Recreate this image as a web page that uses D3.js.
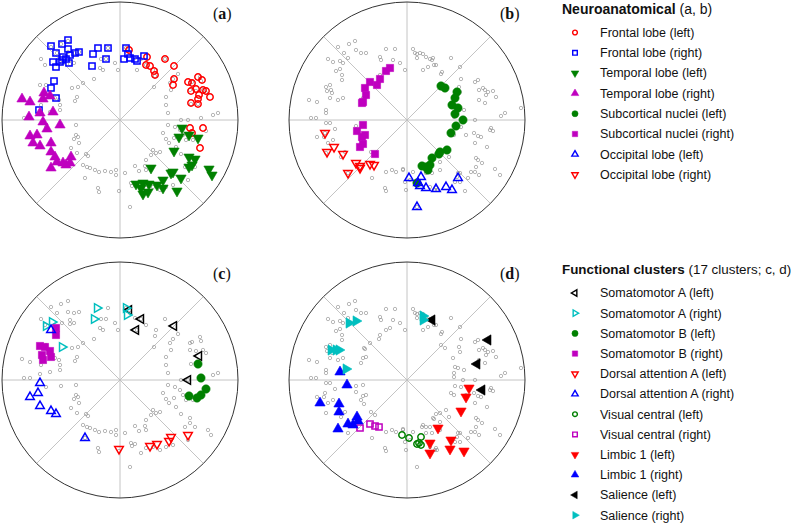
<!DOCTYPE html>
<html><head><meta charset="utf-8">
<script src="https://cdn.jsdelivr.net/npm/d3@7"></script>
<style>body{margin:0;background:#fff}</style>
</head><body>
<svg id="chart" width="800" height="525"></svg>
<script>
// ---- background nodes (embedding coordinates) ----
const leftBackground = [[-59,76],[-52,79],[-69,73],[-63,67],[-52,68],[-46,67],[-41,68],[-50,60],[-58,57],[-46,57],[-50,56],[-79,61],[-75,55],[-12,72],[-19,61],[-14,61],[-5,57],[-2,50],[-20,52],[-17,50],[-26,41],[-37,37],[-42,33],[-43,23],[-45,19],[-48,32],[-61,20],[-60,15],[-60,10],[-65,22],[-70,8],[-79,15],[-80,35],[-74,35],[-90,18],[-98,21],[-96,2],[-90,2],[-80,6],[-74,-7],[-59,-6],[-44,-5],[-44,-15],[-42,-17],[-46,-19],[-41,-23],[-49,-28],[-43,-33],[-34,-34],[-32,-36],[-37,-45],[-33,-47],[-30,-48],[-25,-50],[-21,-52],[-15,-51],[-9,-52],[-4,-50],[-4,-55],[5,-53],[-35,-58],[-22,-68],[-21,-72],[-1,-71],[10,-87],[15,-46],[19,-51],[25,-46],[26,-50],[33,-30],[31,-35],[26,-40],[36,-33],[40,-32],[43,-13],[46,-19],[49,-23],[54,-18],[56,-27],[61,-34],[65,-47],[70,-38],[70,-43],[48,-5],[55,-7],[60,-10],[63,-15],[66,-20],[73,-20],[81,2],[93,5],[98,7],[86,-11],[88,-50],[91,-55],[75,-47],[68,-60],[53,-65],[46,-67],[40,-70],[33,-67],[26,-68],[21,-73],[15,-64],[11,-63],[12,-66],[45,61],[35,44],[36,50],[26,55],[21,61],[17,50],[34,33],[46,23],[46,15],[48,7],[51,30],[50,37],[53,41],[58,46],[70,37],[72,38],[80,43],[81,39],[70,30],[76,29],[83,30],[86,27],[71,16],[78,16],[61,0],[68,0],[6,72],[10,67],[15,62]];
const rightBackground = [[-69,73],[-58,76],[-52,79],[-51,70],[-46,67],[-41,67],[-63,67],[-59,62],[-79,61],[-74,58],[-67,59],[-64,57],[-67,51],[-71,49],[-65,45],[-65,40],[-77,35],[-81,33],[-80,29],[-76,30],[-75,27],[-69,20],[-64,22],[-77,22],[-90,18],[-98,20],[-81,10],[-81,7],[-96,2],[-91,2],[-81,-3],[-77,-3],[-72,-9],[-82,-13],[-83,-17],[-90,-17],[-74,-20],[-79,-23],[-81,-33],[-62,-32],[-66,-37],[-59,-53],[-35,-58],[-22,-68],[-21,-71],[-1,-70],[10,-87],[-44,-16],[-46,-20],[-43,-24],[-41,-15],[-51,-12],[-51,-6],[-44,-5],[-36,-32],[-32,-35],[-37,37],[-28,41],[-27,45],[-21,50],[-17,52],[-27,63],[-21,71],[-12,71],[-26,60],[-14,60],[-7,57],[-2,50],[6,71],[8,67],[10,62],[19,63],[26,62],[29,55],[21,53],[16,50],[34,46],[-42,31],[-44,22],[-41,23],[-46,17],[-21,-52],[-15,-50],[-11,-52],[-4,-50],[-2,-62],[3,-60],[15,-47],[19,-53],[23,-47],[27,-39],[29,-34],[10,66],[13,67],[16,66],[23,61],[25,60],[27,55],[35,48],[44,62],[53,53],[34,35],[38,32],[52,33],[53,28],[46,22],[48,13],[47,7],[47,3],[57,10],[44,-13],[54,-7],[39,-30],[33,-33],[42,-37],[53,-53],[50,-57],[53,-62],[33,-42],[33,-50],[26,-38],[19,-47],[16,-45],[23,-67],[29,-68],[30,-70],[6,-52],[-4,-49],[-43,32],[54,41],[68,38],[71,40],[72,30],[76,32],[78,30],[79,25],[81,28],[86,29],[72,20],[78,17],[89,23],[51,12],[98,7],[94,4],[114,12],[68,0],[56,0],[48,-6],[47,-15],[59,-15],[67,-13],[71,-16],[74,-17],[68,-23],[80,-27],[84,-8],[86,-11],[83,-10],[69,-38],[71,-40],[75,-43],[69,-47],[68,-52],[72,-55],[88,-49],[93,-55],[64,-52],[61,-58],[51,-53],[48,-62],[58,-71],[25,-53],[28,-70]];

// ---- panel (a): neuroanatomical, left embedding ----
const frontalLeftA = [[9,70],[27,63],[26,55],[30,54],[34,49],[35,45],[45,61],[54,54],[54,41],[53,35],[68,38],[72,37],[78,43],[82,40],[71,29],[76,31],[83,30],[86,29],[79,25],[90,23],[78,21],[71,17],[78,16],[70,-8],[72,-13],[83,-8],[80,-28]];
const frontalRightA = [[-69,74],[-58,76],[-52,80],[-64,67],[-52,71],[-41,68],[-45,67],[-67,58],[-57,63],[-50,65],[-60,58],[-51,57],[-64,53],[-58,60],[-54,61],[-27,66],[-22,72],[-12,72],[-14,61],[-28,54],[6,72],[8,66],[4,61],[10,62],[15,61],[17,59],[24,64],[-66,39],[-69,32],[-64,22],[-81,10]];
const temporalLeftA = [[62,-8],[59,-17],[69,-15],[78,-18],[54,-31],[69,-37],[75,-39],[72,-45],[69,-47],[89,-49],[92,-55],[31,-48],[51,-53],[43,-60],[61,-58],[16,-64],[23,-63],[29,-64],[37,-65],[43,-68],[57,-71],[21,-68],[28,-72],[23,-74],[53,-52]];
const temporalRightA = [[-98,21],[-90,18],[-77,21],[-76,27],[-70,24],[-80,7],[-91,3],[-67,8],[-77,-2],[-60,-5],[-73,-9],[-90,-16],[-83,-15],[-87,-23],[-80,-26],[-69,-23],[-69,-32],[-65,-37],[-63,-42],[-57,-43],[-49,-37],[-50,-43],[-69,-48],[-54,-45]];

// ---- panel (b): neuroanatomical, right embedding ----
const subcorticalLeftB = [[34,34],[38,32],[50,28],[48,22],[45,15],[51,12],[48,6],[56,0],[49,-6],[44,-13],[40,-30],[33,-32],[32,-34],[25,-38],[23,-45],[19,-47],[21,-50],[15,-46],[10,-63]];
const subcorticalRightB = [[-17,52],[-21,49],[-27,41],[-30,35],[-37,38],[-42,32],[-41,25],[-44,18],[-45,17],[-44,-5],[-50,-11],[-42,-15],[-45,-17],[-44,-24],[-47,-27],[-32,-34]];
const occipitalLeftB = [[2,-58],[14,-57],[11,-63],[13,-66],[19,-68],[29,-69],[39,-67],[45,-70],[51,-58],[10,-87]];
const occipitalRightB = [[-82,-13],[-73,-27],[-80,-32],[-64,-34],[-51,-43],[-47,-46],[-47,-48],[-37,-44],[-33,-45],[-59,-53]];

// ---- panel (c): functional clusters, left embedding ----
const somatoALeftC = [[9,70],[21,61],[16,50],[54,54],[79,24],[68,0]];
const somatoARightC = [[-23,72],[-26,61],[6,72],[7,65],[-74,54],[-68,58],[-58,33]];
const somatoBLeftC = [[78,16],[81,2],[86,-9],[81,-15],[77,-18],[69,-16]];
const somatoBRightC = [[-64,52],[-64,45],[-80,34],[-75,33],[-70,29],[-78,25],[-69,23],[-77,20]];
const dorsalALeftC = [[-1,-69],[30,-66],[37,-64],[49,-61],[51,-57],[68,-55]];
const dorsalARightC = [[-69,50],[-80,-3],[-82,-13],[-90,-17],[-80,-26],[-69,-31],[-64,-34],[-35,-58]];

// ---- panel (d): functional clusters, right embedding ----
const visualLeftD = [[-5,-55],[2,-58],[14,-57],[10,-64],[14,-65],[12,-63]];
const visualRightD = [[-47,-48],[-37,-44],[-32,-46],[-28,-47]];
const limbicLeftD = [[62,-8],[59,-17],[54,-31],[31,-48],[23,-63],[23,-73],[44,-60],[43,-69],[57,-71]];
const limbicRightD = [[-67,8],[-60,-5],[-87,-23],[-68,-24],[-68,-32],[-69,-49],[-59,-44],[-54,-45],[-50,-37],[-49,-41]];
const salienceLeftD = [[25,60],[81,40],[70,16],[75,-10]];
const salienceRightD = [[-58,57],[-51,59],[-76,30],[-71,30],[-68,30],[-61,11],[16,64],[16,60]];

// ---- legend text ----
const neuroTitle = ["Neuroanatomical", " (a, b)"];
const neuroLabels = ["Frontal lobe (left)","Frontal lobe (right)","Temporal lobe (left)","Temporal lobe (right)","Subcortical nuclei (left)","Subcortical nuclei (right)","Occipital lobe (left)","Occipital lobe (right)"];
const funcTitle = ["Functional clusters", " (17 clusters; c, d)"];
const funcLabels = ["Somatomotor A (left)","Somatomotor A (right)","Somatomotor B (left)","Somatomotor B (right)","Dorsal attention A (left)","Dorsal attention A (right)","Visual central (left)","Visual central (right)","Limbic 1 (left)","Limbic 1 (right)","Salience (left)","Salience (right)"];
const panelLetters = ["a","b","c","d"];

// ---- styles ----
const C = {r:"#ff0000", b:"#0000ff", g:"#008000", m:"#bf00bf", c:"#00bfbf", k:"#000000"};
const neuroStyles = [
  {shape:"circle", color:C.r, fill:false},
  {shape:"square", color:C.b, fill:false},
  {shape:"down", color:C.g, fill:true},
  {shape:"up", color:C.m, fill:true},
  {shape:"circle", color:C.g, fill:true},
  {shape:"square", color:C.m, fill:true},
  {shape:"up", color:C.b, fill:false},
  {shape:"down", color:C.r, fill:false}
];
const funcStyles = [
  {shape:"left", color:C.k, fill:false},
  {shape:"right", color:C.c, fill:false},
  {shape:"circle", color:C.g, fill:true},
  {shape:"square", color:C.m, fill:true},
  {shape:"down", color:C.r, fill:false},
  {shape:"up", color:C.b, fill:false},
  {shape:"circle", color:C.g, fill:false},
  {shape:"square", color:C.m, fill:false},
  {shape:"down", color:C.r, fill:true},
  {shape:"up", color:C.b, fill:true},
  {shape:"left", color:C.k, fill:true},
  {shape:"right", color:C.c, fill:true}
];

function symbolPath(style, scale) {
  let type, size, rot = 0;
  const s = style.shape;
  if (s === "circle") { type = d3.symbolCircle; size = style.fill ? 54 : 32; }
  else if (s === "square") { type = d3.symbolSquare; size = style.fill ? 52 : 38; }
  else { type = d3.symbolTriangle; size = style.fill ? 46 : 32;
         rot = {up:0, down:180, left:-90, right:90}[s]; }
  return {d: d3.symbol().type(type).size(size * scale)(), rot};
}

function drawMarks(g, data, style, sx, sy, scale) {
  const p = symbolPath(style, scale);
  g.append("g").selectAll("path").data(data).join("path")
    .attr("d", p.d)
    .attr("transform", d => `translate(${sx(d[0])},${sy(d[1])}) rotate(${p.rot})`)
    .attr("fill", style.fill ? style.color : "none")
    .attr("stroke", style.color)
    .attr("stroke-width", style.fill ? 0.6 : 1.5);
}

const svg = d3.select("#chart");
const R = 118;
const panels = [
  {cx:120, cy:120, bg:leftBackground, sets:[frontalLeftA, frontalRightA, temporalLeftA, temporalRightA], styles:[0,1,2,3].map(i=>neuroStyles[i])},
  {cx:407, cy:120, bg:rightBackground, sets:[subcorticalLeftB, subcorticalRightB, occipitalLeftB, occipitalRightB], styles:[4,5,6,7].map(i=>neuroStyles[i])},
  {cx:120, cy:380, bg:leftBackground, sets:[somatoALeftC, somatoARightC, somatoBLeftC, somatoBRightC, dorsalALeftC, dorsalARightC], styles:[0,1,2,3,4,5].map(i=>funcStyles[i])},
  {cx:407, cy:380, bg:rightBackground, sets:[visualLeftD, visualRightD, limbicLeftD, limbicRightD, salienceLeftD, salienceRightD], styles:[6,7,8,9,10,11].map(i=>funcStyles[i])}
];

panels.forEach((P, pi) => {
  const sx = d3.scaleLinear().domain([-R, R]).range([P.cx - R, P.cx + R]);
  const sy = d3.scaleLinear().domain([-R, R]).range([P.cy + R, P.cy - R]);
  const g = svg.append("g");
  d3.range(8).forEach(k => {
    const a = k * Math.PI / 4;
    g.append("line").attr("x1", sx(0)).attr("y1", sy(0))
      .attr("x2", sx(R * Math.cos(a))).attr("y2", sy(R * Math.sin(a)))
      .attr("stroke", "#bdbdbd").attr("stroke-width", 0.9);
  });
  g.append("circle").attr("cx", sx(0)).attr("cy", sy(0)).attr("r", sx(R) - sx(0))
    .attr("fill", "none").attr("stroke", "#333").attr("stroke-width", 1);
  g.append("g").selectAll("circle").data(P.bg).join("circle")
    .attr("cx", d => sx(d[0])).attr("cy", d => sy(d[1])).attr("r", 1.7)
    .attr("fill", "none").attr("stroke", "#9a9a9a").attr("stroke-width", 0.7);
  P.sets.forEach((data, i) => drawMarks(g, data, P.styles[i], sx, sy, 1));
  const t = g.append("text").attr("x", P.cx + 93).attr("y", P.cy - 101)
    .attr("font-family", "Liberation Serif, DejaVu Serif, serif").attr("font-size", 16).attr("fill", "#111");
  t.append("tspan").text("(");
  t.append("tspan").attr("font-weight", "bold").text(panelLetters[pi]);
  t.append("tspan").text(")");
});

function legend(x, yTitle, yFirst, step, title, titleSize, labels, styles) {
  const g = svg.append("g").attr("font-family", "Liberation Sans, Arial, sans-serif").attr("fill", "#111");
  const t = g.append("text").attr("x", x).attr("y", yTitle).attr("font-size", titleSize);
  t.append("tspan").attr("font-weight", "bold").text(title[0]);
  t.append("tspan").text(title[1]);
  labels.forEach((lab, i) => {
    const y = yFirst + i * step;
    const p = symbolPath(styles[i], 0.55);
    g.append("path").attr("d", p.d)
      .attr("transform", `translate(${x + 13},${y}) rotate(${p.rot})`)
      .attr("fill", styles[i].fill ? styles[i].color : "none")
      .attr("stroke", styles[i].color).attr("stroke-width", styles[i].fill ? 0.5 : 1.4);
    g.append("text").attr("x", x + 38).attr("y", y).attr("dy", "0.35em")
      .attr("font-size", 12.5).text(lab);
  });
}
legend(562, 14, 32.5, 20.3, neuroTitle, 14, neuroLabels, neuroStyles);
legend(562, 274, 293, 20.2, funcTitle, 13.4, funcLabels, funcStyles);
</script>
</body></html>
